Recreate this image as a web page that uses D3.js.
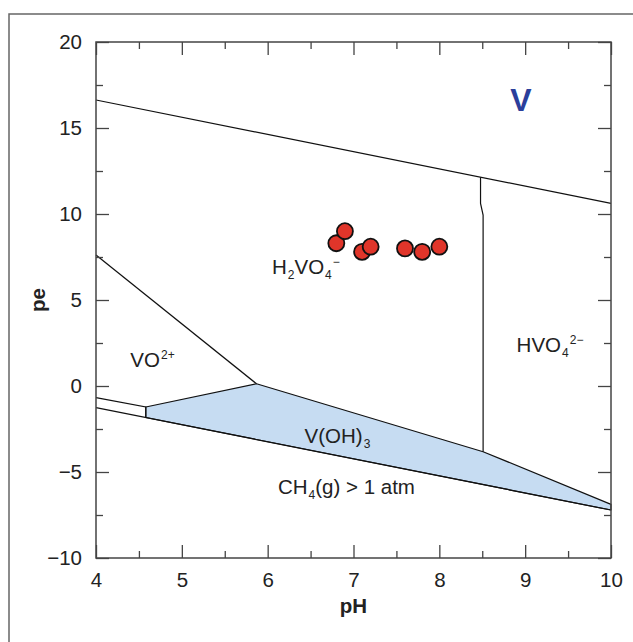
<!DOCTYPE html>
<html>
<head>
<meta charset="utf-8">
<script src="https://cdn.jsdelivr.net/npm/d3@7"></script>
<style>
  body { margin: 0; background: #fff; }
  svg { font-family: Arial, "Liberation Sans", sans-serif; }
  .tick text { font-size: 20.5px; fill: #222; }
  .tick line { stroke: #444; stroke-width: 1.3; }
  .domain { display: none; }
</style>
</head>
<body>
<div id="chart"></div>
<script>
var width = 633,
	height = 642,
	margin = {top: 42, right: 22, bottom: 84, left: 96};

// axis ticks
var phTicks = [4, 5, 6, 7, 8, 9, 10],
	phMinor = [4.5, 5.5, 6.5, 7.5, 8.5, 9.5],
	peTicks = [-10, -5, 0, 5, 10, 15, 20],
	peMinor = [-7.5, -2.5, 2.5, 7.5, 12.5, 17.5];

// stability field boundaries, [pH, pe]
var o2Line = [[4, 16.63], [10, 10.62]],
	h2Line = [[4, -1.26], [10, -7.21]],
	vo2Line = [[4, 7.62], [5.87, 0.13]],
	vo2LowLine = [[4, -0.68], [4.58, -1.22], [4.58, -1.83]],
	hvo4Line = [[8.48, 12.13], [8.48, 10.62], [8.51, 9.94], [8.51, -3.82]],
	vohField = [[4.58, -1.22], [5.87, 0.13], [8.51, -3.82], [10, -6.88], [10, -7.21], [4.58, -1.83]];

// samples
var samplePH = [6.8, 6.9, 7.1, 7.2, 7.6, 7.8, 8.0],
	samplePE = [8.3, 9.0, 7.8, 8.1, 8.0, 7.8, 8.1];

// field labels: parts are [text, "n" | "sub" | "sup"]
var fieldLabels = [
	{pH: 6.05, pe: 6.5, parts: [["H", "n"], ["2", "sub"], ["VO", "n"], ["4", "sub"], ["\u2212", "sup"]]},
	{pH: 4.40, pe: 1.1, parts: [["VO", "n"], ["2+", "sup"]]},
	{pH: 8.90, pe: 2.0, parts: [["HVO", "n"], ["4", "sub"], ["2\u2212", "sup"]]},
	{pH: 6.43, pe: -3.3, parts: [["V(OH)", "n"], ["3", "sub"]]},
	{pH: 6.12, pe: -6.3, parts: [["CH", "n"], ["4", "sub"], ["(g) > 1 atm", "n"]]}
];

var svg = d3.select('#chart')
	.append('svg')
	.attr('width', width)
	.attr('height', height);

var x = d3.scaleLinear()
		.domain([4, 10])
		.range([margin.left, width - margin.right]),
	y = d3.scaleLinear()
		.domain([-10, 20])
		.range([height - margin.bottom, margin.top]);

// outer frame
svg.append("rect")
	.attr("x", 9)
	.attr("y", 14)
	.attr("width", 640)
	.attr("height", 700)
	.attr("fill", "none")
	.attr("stroke", "#666")
	.attr("stroke-width", 1.5);

var line = d3.line()
	.x(function(d){ return x(d[0]); })
	.y(function(d){ return y(d[1]); });

// V(OH)3 field
svg.append("path")
	.attr("d", line(vohField) + "Z")
	.attr("fill", "#c6dcf2")
	.attr("stroke", "#111")
	.attr("stroke-width", 1.2)
	.attr("stroke-linejoin", "round");

[o2Line, h2Line, vo2Line, vo2LowLine, hvo4Line].forEach(function(l){
	svg.append("path")
		.attr("d", line(l))
		.attr("fill", "none")
		.attr("stroke", "#111")
		.attr("stroke-width", 1.2);
});

// axes with inward ticks on all four sides
function addAxis(axis, tr, vals, size, labels, pad){
	var g = svg.append("g")
		.attr("transform", tr)
		.call(axis.tickValues(vals).tickSize(-size).tickPadding(pad)
			.tickFormat(labels ? d3.format("") : ""));
	return g;
}
var yBase = y(-10), xBase = x(4), xEnd = x(10), yTop = y(20);
addAxis(d3.axisBottom(x), "translate(0," + yBase + ")", phTicks, 13, true, 14);
addAxis(d3.axisBottom(x), "translate(0," + yBase + ")", phMinor, 7, false, 0);
addAxis(d3.axisTop(x), "translate(0," + yTop + ")", phTicks, 13, false, 0);
addAxis(d3.axisTop(x), "translate(0," + yTop + ")", phMinor, 7, false, 0);
addAxis(d3.axisLeft(y), "translate(" + xBase + ",0)", peTicks, 13, true, 14);
addAxis(d3.axisLeft(y), "translate(" + xBase + ",0)", peMinor, 7, false, 0);
addAxis(d3.axisRight(y), "translate(" + xEnd + ",0)", peTicks, 13, false, 0);
addAxis(d3.axisRight(y), "translate(" + xEnd + ",0)", peMinor, 7, false, 0);

// plot frame
svg.append("rect")
	.attr("x", xBase)
	.attr("y", yTop)
	.attr("width", xEnd - xBase)
	.attr("height", yBase - yTop)
	.attr("fill", "none")
	.attr("stroke", "#444")
	.attr("stroke-width", 1.5);

// sample points
svg.append("g").selectAll("circle")
	.data(samplePH).enter()
	.append("circle")
	.attr("cx", function(d){ return x(d); })
	.attr("cy", function(d, i){ return y(samplePE[i]); })
	.attr("r", 8)
	.attr("fill", "#e0352a")
	.attr("stroke", "#111")
	.attr("stroke-width", 1.8);

// field labels
fieldLabels.forEach(function(f){
	var t = svg.append("text")
		.attr("x", x(f.pH))
		.attr("y", y(f.pe))
		.attr("font-size", 20.5)
		.attr("fill", "#222");
	var shift = 0;
	f.parts.forEach(function(p){
		var target = p[1] == "sub" ? 5 : (p[1] == "sup" ? -8 : 0);
		t.append("tspan")
			.attr("dy", target - shift)
			.attr("dx", p[1] == "n" ? 0 : 1)
			.attr("font-size", p[1] == "n" ? 20.5 : 12)
			.text(p[0]);
		shift = target;
	});
});

// element label
svg.append("text")
	.attr("x", 521)
	.attr("y", 110.5)
	.attr("text-anchor", "middle")
	.attr("font-size", 32)
	.attr("font-weight", "bold")
	.attr("fill", "#2b3f9b")
	.text("V");

// axis titles
svg.append("text")
	.attr("x", (xBase + xEnd) / 2)
	.attr("y", 613)
	.attr("text-anchor", "middle")
	.attr("font-size", 20.5)
	.attr("font-weight", "bold")
	.attr("fill", "#222")
	.text("pH");

svg.append("text")
	.attr("transform", "translate(45," + ((yTop + yBase) / 2) + ") rotate(-90)")
	.attr("text-anchor", "middle")
	.attr("font-size", 20.5)
	.attr("font-weight", "bold")
	.attr("fill", "#222")
	.text("pe");
</script>
</body>
</html>
